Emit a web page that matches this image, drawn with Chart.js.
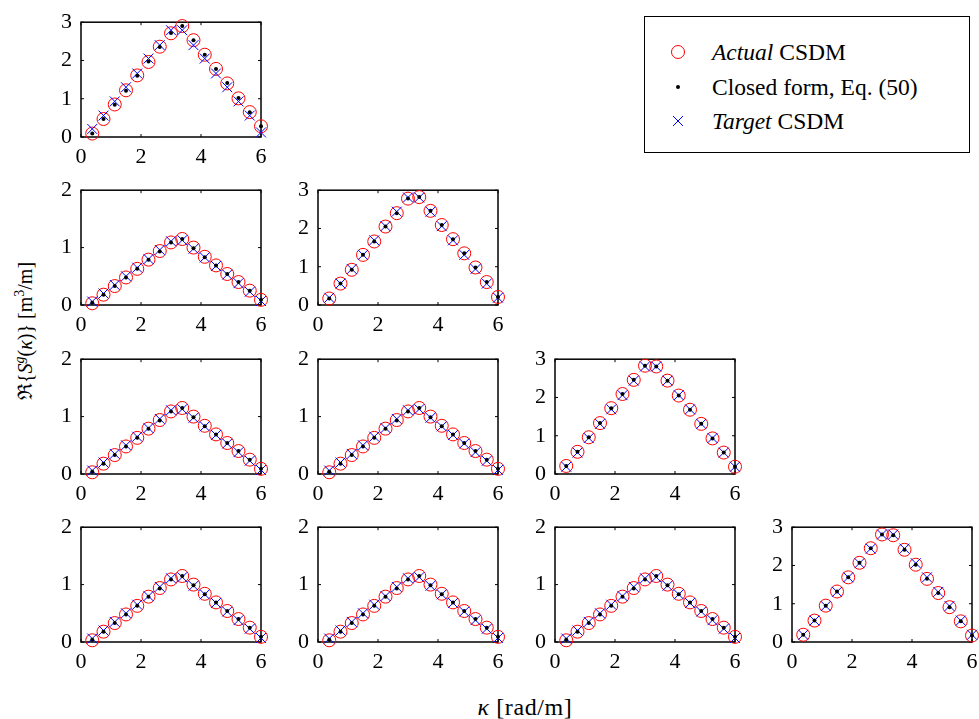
<!DOCTYPE html>
<html>
<head>
<meta charset="utf-8">
<script src="https://cdn.jsdelivr.net/npm/chart.js@4.4.1/dist/chart.umd.min.js"></script>
<style>
  html, body { margin: 0; padding: 0; background: #fff; }
  body { width: 979px; height: 719px; position: relative; overflow: hidden;
         font-family: "Liberation Serif", "DejaVu Serif", serif; color: #000; }
  .panel { position: absolute; }
  .legend { position: absolute; left: 644px; top: 16px; width: 326px; height: 137px;
            border: 1.5px solid #000; box-sizing: border-box; background: #fff; }
  .legend .row { position: absolute; left: 0; height: 26px; line-height: 26px; font-size: 23.5px; white-space: nowrap; }
  .legend .mk { position: absolute; left: 25px; top: 5px; width: 16px; height: 16px; }
  .legend .tx { position: absolute; left: 67px; top: 0; }
  .ylab { position: absolute; left: 24px; top: 331px; transform: translate(-50%, -50%) rotate(-90deg);
          font-size: 20px; white-space: nowrap; }
  .xlab { position: absolute; left: 525px; top: 707px; transform: translate(-50%, -50%);
          font-size: 24px; letter-spacing: 0.6px; white-space: nowrap; }
  sup { font-size: 14px; line-height: 0; }
</style>
</head>
<body>
<div class="legend">
  <div class="row" style="top:22px">
    <svg class="mk" viewBox="0 0 16 16"><circle cx="8" cy="8" r="6.5" fill="none" stroke="#ff0000" stroke-width="1"/></svg>
    <span class="tx"><i>Actual</i> CSDM</span>
  </div>
  <div class="row" style="top:57px">
    <svg class="mk" viewBox="0 0 16 16"><circle cx="8" cy="8" r="2" fill="#000"/></svg>
    <span class="tx">Closed form, Eq. (50)</span>
  </div>
  <div class="row" style="top:91px">
    <svg class="mk" viewBox="0 0 16 16"><path d="M3 3 L13 13 M13 3 L3 13" stroke="#0000ff" stroke-width="1" fill="none"/></svg>
    <span class="tx"><i>Target</i> CSDM</span>
  </div>
</div>
<div class="ylab">ℜ{<i>S</i><sup><i>g</i></sup>(<i>κ</i>)} [m<sup>3</sup>/m]</div>
<div class="xlab"><i>κ</i> [rad/m]</div>

<script>
// wavenumbers (rad/m)
const kappa = [0.375, 0.75, 1.125, 1.5, 1.875, 2.25, 2.625, 3.0, 3.375, 3.75, 4.125, 4.5, 4.875, 5.25, 5.625, 6.0];

// auto-spectrum, point 1
const actual11 = [0.09, 0.47, 0.85, 1.22, 1.61, 1.96, 2.36, 2.71, 2.90, 2.53, 2.15, 1.78, 1.40, 1.01, 0.65, 0.28];
const closed11 = [0.09, 0.47, 0.84, 1.21, 1.60, 1.97, 2.35, 2.72, 2.90, 2.53, 2.15, 1.78, 1.41, 1.02, 0.65, 0.28];
const target11 = [0.21, 0.56, 0.93, 1.30, 1.66, 2.05, 2.40, 2.79, 2.79, 2.40, 2.05, 1.66, 1.30, 0.93, 0.56, 0.12];

// auto-spectra, points 2..4
const actual22 = [0.17, 0.56, 0.92, 1.31, 1.66, 2.05, 2.40, 2.78, 2.82, 2.46, 2.09, 1.72, 1.35, 0.98, 0.60, 0.21];
const actual33 = [0.21, 0.58, 0.96, 1.33, 1.72, 2.09, 2.46, 2.83, 2.81, 2.44, 2.05, 1.68, 1.31, 0.93, 0.56, 0.19];
const actual44 = [0.19, 0.56, 0.95, 1.32, 1.69, 2.07, 2.45, 2.81, 2.79, 2.41, 2.02, 1.65, 1.28, 0.91, 0.54, 0.17];
const targetAuto = [0.19, 0.56, 0.94, 1.31, 1.69, 2.06, 2.44, 2.81, 2.81, 2.44, 2.06, 1.69, 1.31, 0.94, 0.56, 0.19];

// cross-spectra (real part)
const actualCross = [0.03, 0.18, 0.33, 0.48, 0.63, 0.79, 0.94, 1.09, 1.15, 1.00, 0.84, 0.69, 0.54, 0.40, 0.25, 0.09];
const closedCross = [0.04, 0.18, 0.33, 0.48, 0.63, 0.79, 0.93, 1.09, 1.15, 0.99, 0.83, 0.69, 0.54, 0.40, 0.25, 0.09];
const targetCross = [0.06, 0.20, 0.35, 0.50, 0.65, 0.80, 0.96, 1.11, 1.13, 0.98, 0.83, 0.68, 0.53, 0.38, 0.23, 0.07];

const xTicks = [0, 2, 4, 6];
const yTicksAuto = [0, 1, 2, 3];
const yTicksCross = [0, 1, 2];

// lower-triangular matrix of panels
const panels = [
  { row: 0, col: 0, yMax: 3, actual: actual11, closed: closed11, target: target11 },
  { row: 1, col: 0, yMax: 2, actual: actualCross, closed: closedCross, target: targetCross },
  { row: 1, col: 1, yMax: 3, actual: actual22, closed: actual22, target: targetAuto },
  { row: 2, col: 0, yMax: 2, actual: actualCross, closed: closedCross, target: targetCross },
  { row: 2, col: 1, yMax: 2, actual: actualCross, closed: closedCross, target: targetCross },
  { row: 2, col: 2, yMax: 3, actual: actual33, closed: actual33, target: targetAuto },
  { row: 3, col: 0, yMax: 2, actual: actualCross, closed: closedCross, target: targetCross },
  { row: 3, col: 1, yMax: 2, actual: actualCross, closed: closedCross, target: targetCross },
  { row: 3, col: 2, yMax: 2, actual: actualCross, closed: closedCross, target: targetCross },
  { row: 3, col: 3, yMax: 3, actual: actual44, closed: actual44, target: targetAuto }
];

// grid geometry (plot-area boxes)
const PLOT_W = 180, PLOT_H = 121;
const COL_X0 = 81, COL_DX = 237;
const ROW_Y0 = 16, ROW_DY = 168.4;
const AXIS_W = 50, AXIS_H = 34, PAD_T = 16, PAD_R = 16;
const FONT = { family: '"Liberation Serif", "DejaVu Serif", serif', size: 22 };

// box with inward tick marks on all four sides
const boxPlugin = {
  id: 'matlabBox',
  beforeDatasetsDraw(chart) {
    const { ctx, chartArea: a, scales } = chart;
    const tl = 3;
    ctx.save();
    ctx.strokeStyle = '#000';
    ctx.lineWidth = 1;
    scales.x.ticks.forEach(t => {
      const px = scales.x.getPixelForValue(t.value);
      ctx.beginPath();
      ctx.moveTo(px, a.bottom); ctx.lineTo(px, a.bottom - tl);
      ctx.moveTo(px, a.top); ctx.lineTo(px, a.top + tl);
      ctx.stroke();
    });
    scales.y.ticks.forEach(t => {
      const py = scales.y.getPixelForValue(t.value);
      ctx.beginPath();
      ctx.moveTo(a.left, py); ctx.lineTo(a.left + tl, py);
      ctx.moveTo(a.right, py); ctx.lineTo(a.right - tl, py);
      ctx.stroke();
    });
    ctx.lineWidth = 1.5;
    ctx.strokeRect(a.left, a.top, a.right - a.left, a.bottom - a.top);
    ctx.restore();
  }
};

function toPoints(ys) { return kappa.map((k, i) => ({ x: k, y: ys[i] })); }

panels.forEach(p => {
  const plotLeft = Math.round(COL_X0 + COL_DX * p.col);
  const plotTop = Math.round(ROW_Y0 + ROW_DY * p.row);
  const wrap = document.createElement('div');
  wrap.className = 'panel';
  wrap.style.left = (plotLeft - AXIS_W) + 'px';
  wrap.style.top = (plotTop - PAD_T) + 'px';
  const cv = document.createElement('canvas');
  cv.width = PLOT_W + AXIS_W + PAD_R;
  cv.height = PLOT_H + PAD_T + AXIS_H;
  wrap.appendChild(cv);
  document.body.appendChild(wrap);

  const yTickVals = p.yMax === 3 ? yTicksAuto : yTicksCross;

  new Chart(cv, {
    type: 'scatter',
    data: {
      datasets: [
        { label: 'Actual CSDM', data: toPoints(p.actual), order: 3, clip: false,
          pointStyle: 'circle', pointRadius: 6.5, pointBorderWidth: 1,
          pointBorderColor: '#ff0000', pointBackgroundColor: 'rgba(0,0,0,0)' },
        { label: 'Target CSDM', data: toPoints(p.target), order: 2, clip: false,
          pointStyle: 'crossRot', pointRadius: 7, pointBorderWidth: 1,
          pointBorderColor: '#0000ff', pointBackgroundColor: '#0000ff' },
        { label: 'Closed form, Eq. (50)', data: toPoints(p.closed), order: 1, clip: false,
          pointStyle: 'circle', pointRadius: 2, pointBorderWidth: 0,
          pointBorderColor: '#000', pointBackgroundColor: '#000' }
      ]
    },
    options: {
      responsive: false,
      devicePixelRatio: 1,
      animation: false,
      events: [],
      layout: { padding: { left: 0, top: PAD_T, right: PAD_R, bottom: 0 } },
      plugins: { legend: { display: false }, tooltip: { enabled: false } },
      scales: {
        x: {
          type: 'linear', min: 0, max: 6,
          afterFit: s => { s.height = AXIS_H; },
          afterBuildTicks: s => { s.ticks = xTicks.map(v => ({ value: v })); },
          grid: { display: false, drawTicks: false },
          border: { display: false },
          ticks: { font: FONT, color: '#000', padding: 7, maxRotation: 0, autoSkip: false }
        },
        y: {
          type: 'linear', min: 0, max: p.yMax,
          afterFit: s => { s.width = AXIS_W; },
          afterBuildTicks: s => { s.ticks = yTickVals.map(v => ({ value: v })); },
          grid: { display: false, drawTicks: false },
          border: { display: false },
          ticks: { font: FONT, color: '#000', padding: 9, autoSkip: false }
        }
      }
    },
    plugins: [boxPlugin]
  });
});
</script>
</body>
</html>
